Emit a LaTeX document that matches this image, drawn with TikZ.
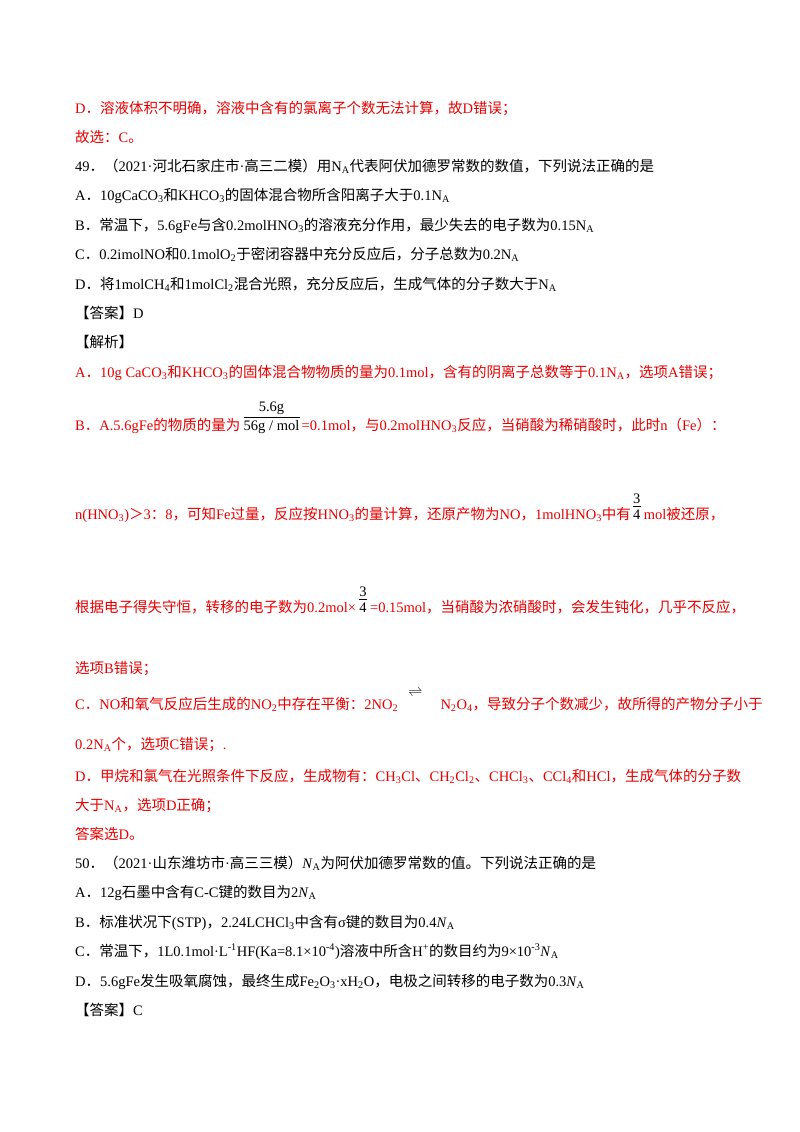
\documentclass[tikz,border=0pt]{standalone}
\usepackage{fontspec}
\setmainfont{Liberation Serif}
\newfontfamily\cjk{Noto Sans CJK SC}
\XeTeXinterchartokenstate=1
\newXeTeXintercharclass\hanclass
\makeatletter
\def\sethan#1#2{\count@=#1\relax
  \loop\XeTeXcharclass\count@=\hanclass\ifnum\count@<#2\advance\count@ 1\repeat}
\makeatother
\sethan{"3000}{"303F}
\sethan{"4E00}{"9FFF}
\sethan{"FF00}{"FFEF}
\XeTeXinterchartoks 0 \hanclass = {\begingroup\cjk}
\XeTeXinterchartoks 4095 \hanclass = {\begingroup\cjk}
\XeTeXinterchartoks \hanclass 0 = {\endgroup}
\XeTeXinterchartoks \hanclass 4095 = {\endgroup}
\usetikzlibrary{calc}
\definecolor{ansred}{RGB}{232,0,0}
\newcommand{\NA}{N\textsubscript{A}}
\newcommand{\iNA}{\textit{N}\textsubscript{A}}

\begin{document}
\begin{tikzpicture}[x=1pt,y=-1pt,
  txt/.style={anchor=base west,inner sep=0pt,font=\fontsize{14.5}{17}\selectfont},
  red/.style={txt,text=ansred},
  fr/.style={inner sep=1pt,font=\fontsize{14.5}{17}\selectfont}]
\fill[white] (0,0) rectangle (800,1132);
\node[red] (l1) at (75,113) {D．溶液体积不明确，溶液中含有的氯离子个数无法计算，故D错误；};
\node[red] (l2) at (75,142) {故选：C。};
\node[txt] (q49) at (75,171) {49．（2021·河北石家庄市·高三二模）用\NA{}代表阿伏加德罗常数的数值，下列说法正确的是};
\node[txt] (q49a) at (75,200) {A．10gCaCO\textsubscript{3}和KHCO\textsubscript{3}的固体混合物所含阳离子大于0.1\NA};
\node[txt] (q49b) at (75,230) {B．常温下，5.6gFe与含0.2molHNO\textsubscript{3}的溶液充分作用，最少失去的电子数为0.15\NA};
\node[txt] (q49c) at (75,259) {C．0.2imolNO和0.1molO\textsubscript{2}于密闭容器中充分反应后，分子总数为0.2\NA};
\node[txt] (q49d) at (75,289) {D．将1molCH\textsubscript{4}和1molCl\textsubscript{2}混合光照，充分反应后，生成气体的分子数大于\NA};
\node[txt] (ans49) at (75,318) {【答案】D};
\node[txt] (jx49) at (75,347) {【解析】};
\node[red] (ja) at (75,377) {A．10g CaCO\textsubscript{3}和KHCO\textsubscript{3}的固体混合物物质的量为0.1mol，含有的阴离子总数等于0.1\NA，选项A错误；};
% B: fraction 5.6g / 56g/mol
\node[red] (jb1) at (75,430) {B．A.5.6gFe的物质的量为};
\node[txt] (fd1) at ($(jb1.base east)+(3,0)$) {56g / mol};
\draw[thin] ($(fd1.north west)+(0,-3)$) -- ($(fd1.north east)+(0,-3)$);
\node[fr,anchor=south] (fn1) at ($(fd1.north)+(0,-4)$) {5.6g};
\node[red] (jb2) at ($(fd1.base east)+(2,0)$) {=0.1mol，与0.2molHNO\textsubscript{3}反应，当硝酸为稀硝酸时，此时n（Fe）：};
% n(HNO3) line with 3/4
\node[red] (jb3) at (75,519) {n(HNO\textsubscript{3})＞3：8，可知Fe过量，反应按HNO\textsubscript{3}的量计算，还原产物为NO，1molHNO\textsubscript{3}中有};
\node[txt] (fd2) at ($(jb3.base east)+(2,0)$) {4};
\draw[thin] ($(fd2.north west)+(0,-3)$) -- ($(fd2.north east)+(0,-3)$);
\node[fr,anchor=south] (fn2) at ($(fd2.north)+(0,-4)$) {3};
\node[red] (jb4) at ($(fd2.base east)+(3,0)$) {mol被还原，};
% electron line with 3/4
\node[red] (jb5) at (75,612) {根据电子得失守恒，转移的电子数为0.2mol×};
\node[txt] (fd3) at ($(jb5.base east)+(3,0)$) {4};
\draw[thin] ($(fd3.north west)+(0,-3)$) -- ($(fd3.north east)+(0,-3)$);
\node[fr,anchor=south] (fn3) at ($(fd3.north)+(0,-4)$) {3};
\node[red] (jb6) at ($(fd3.base east)+(3,0)$) {=0.15mol，当硝酸为浓硝酸时，会发生钝化，几乎不反应，};
\node[red] (jb7) at (75,673) {选项B错误；};
% C: equilibrium
\node[red] (jc1) at (75,709) {C．NO和氧气反应后生成的NO\textsubscript{2}中存在平衡：2NO\textsubscript{2}};
\node[fr,anchor=south] (eq) at ($(jc1.base east)+(17,-11)$) {$\rightleftharpoons$};
\node[red] (jc2) at ($(jc1.base east)+(42,0)$) {N\textsubscript{2}O\textsubscript{4}，导致分子个数减少，故所得的产物分子小于};
\node[red] (jc3) at (75,749) {0.2\NA{}个，选项C错误；.};
\node[red] (jd1) at (75,781) {D．甲烷和氯气在光照条件下反应，生成物有：CH\textsubscript{3}Cl、CH\textsubscript{2}Cl\textsubscript{2}、CHCl\textsubscript{3}、CCl\textsubscript{4}和HCl，生成气体的分子数};
\node[red] (jd2) at (75,810) {大于\NA，选项D正确；};
\node[red] (jd3) at (75,839) {答案选D。};
\node[txt] (q50) at (75,868) {50．（2021·山东潍坊市·高三三模）\iNA{}为阿伏加德罗常数的值。下列说法正确的是};
\node[txt] (q50a) at (75,897) {A．12g石墨中含有C-C键的数目为2\iNA};
\node[txt] (q50b) at (75,927) {B．标准状况下(STP)，2.24LCHCl\textsubscript{3}中含有σ键的数目为0.4\iNA};
\node[txt] (q50c) at (75,956) {C．常温下，1L0.1mol·L\textsuperscript{-1}HF(Ka=8.1×10\textsuperscript{-4})溶液中所含H\textsuperscript{+}的数目约为9×10\textsuperscript{-3}\iNA};
\node[txt] (q50d) at (75,986) {D．5.6gFe发生吸氧腐蚀，最终生成Fe\textsubscript{2}O\textsubscript{3}·xH\textsubscript{2}O，电极之间转移的电子数为0.3\iNA};
\node[txt] (ans50) at (75,1015) {【答案】C};
\end{tikzpicture}
\end{document}
